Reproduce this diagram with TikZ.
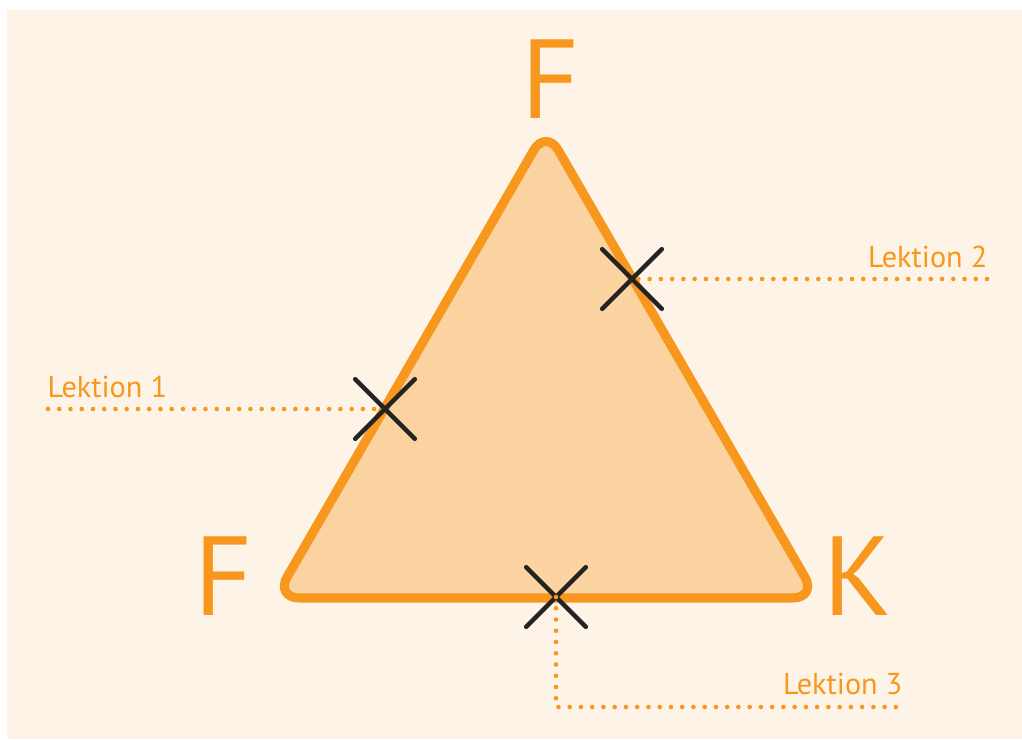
\documentclass[tikz,border=0pt]{standalone}
\usepackage{fontspec}
\setmainfont{PT Sans}
\usetikzlibrary{shapes.misc}
\definecolor{bgpeach}{RGB}{253,243,231}
\definecolor{triorange}{RGB}{247,151,30}
\definecolor{trifill}{RGB}{251,211,160}
\definecolor{crossgray}{RGB}{35,35,35}

\begin{document}
\begin{tikzpicture}[
  corner/.style={font=\fontsize{32}{32}\selectfont, text=triorange, inner sep=0pt},
  lek/.style={font=\fontsize{8.6}{9}\selectfont, text=triorange, inner sep=0pt},
  tri/.style={draw=triorange, fill=trifill, line width=2.6pt, rounded corners=7pt},
  xmark/.style={draw=crossgray, cross out, line width=1.3pt, line cap=round, minimum size=0.55cm, inner sep=0pt},
  dotline/.style={draw=triorange, line width=1.3pt, line cap=round, dash pattern=on 0pt off 3.2pt}
]
  \useasboundingbox (0,0) rectangle (10.22,-7.39);
  \fill[bgpeach] (0.07,-0.10) rectangle (10.22,-7.39);

  % triangle
  \coordinate (top) at (5.46,-1.29);
  \coordinate (left) at (2.75,-5.98);
  \coordinate (right) at (8.17,-5.98);
  \coordinate (basemid) at (5.46,-5.98);
  \draw[tri] (basemid) -- (right) -- (top) -- (left) -- cycle;

  \node[corner, anchor=base] (ftop) at (5.505,-1.18) {F};
  \node[corner, anchor=base] (fleft) at (2.235,-6.15) {F};
  \node[corner, anchor=base] (kright) at (8.575,-6.15) {K};

  % lessons
  \coordinate (l1) at (0.48,-4.09);
  \coordinate (l2) at (9.87,-2.79);
  \coordinate (l3bend) at (5.56,-7.07);
  \coordinate (l3) at (9.07,-7.07);

  \node[xmark] (x1) at (3.85,-4.09) {};
  \node[xmark] (x2) at (6.32,-2.79) {};
  \node[xmark] (x3) at (5.56,-5.97) {};

  \draw[dotline] (l1) -- (x1.center);
  \draw[dotline] (l2) -- (x2.center);
  \draw[dotline] (x3.center) -- (l3bend) -- (l3);

  \node[lek, anchor=base west] (lek1) at (0.47,-3.97) {Lektion 1};
  \node[lek, anchor=base east] (lek2) at (9.88,-2.67) {Lektion 2};
  \node[lek, anchor=base east] (lek3) at (9.03,-6.94) {Lektion 3};
\end{tikzpicture}
\end{document}
